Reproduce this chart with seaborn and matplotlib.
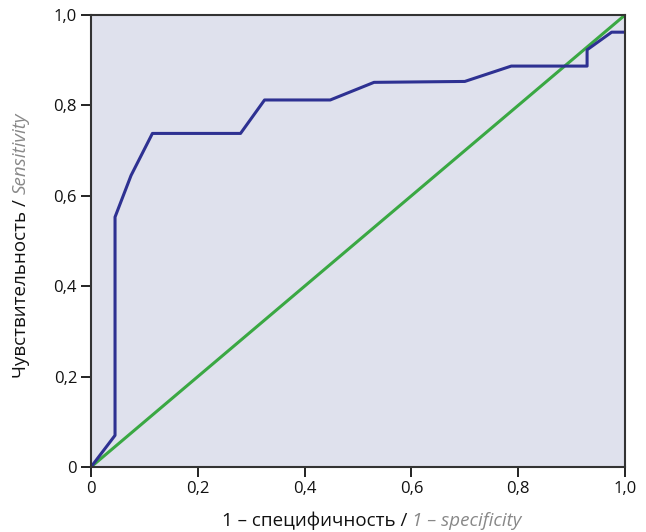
import matplotlib
matplotlib.use("Agg")
import matplotlib.pyplot as plt
import seaborn as sns
from matplotlib.ticker import FuncFormatter

# ROC curve points (1 - specificity, sensitivity)
fpr = [0.0, 0.045, 0.045, 0.075, 0.115, 0.28, 0.325, 0.448, 0.53, 0.70, 0.787, 0.929, 0.929, 0.975, 1.0]
tpr = [0.0, 0.07, 0.553, 0.645, 0.738, 0.738, 0.812, 0.812, 0.851, 0.853, 0.887, 0.887, 0.923, 0.962, 0.962]
diag_x = [0.0, 1.0]
diag_y = [0.0, 1.0]
ticks = [0.0, 0.2, 0.4, 0.6, 0.8, 1.0]

sns.set_style("ticks")
plt.rcParams['font.family'] = ['Open Sans', 'DejaVu Sans']

fig = plt.figure(figsize=(6.46, 5.32), dpi=100)
ax = fig.add_axes([91/646, 65/532, 534/646, 452/532])
ax.set_facecolor("#dfe1ed")

sns.lineplot(x=diag_x, y=diag_y, sort=False, estimator=None, color="#3aa843", linewidth=2.2, ax=ax)
sns.lineplot(x=fpr, y=tpr, sort=False, estimator=None, color="#2e3192", linewidth=2.2, ax=ax)

ax.set_xlim(0, 1)
ax.set_ylim(0, 1)
ax.set_xticks(ticks)
ax.set_yticks(ticks)
fmt = FuncFormatter(lambda v, p: "0" if v == 0 else f"{v:.1f}".replace(".", ","))
ax.xaxis.set_major_formatter(fmt)
ax.yaxis.set_major_formatter(fmt)
ax.tick_params(axis="both", direction="out", length=7, width=1.3, labelsize=12, colors="#111111", pad=3)
for s in ax.spines.values():
    s.set_visible(True)
    s.set_linewidth(1.5)
    s.set_color("#333333")
ax.set_xlabel("")
ax.set_ylabel("")

fig.canvas.draw()
r = fig.canvas.get_renderer()
fs = 13.5

# x label
xl1 = fig.text(0, 0, "1 – специфичность / ", fontsize=fs, color="#111111", ha="left", va="baseline")
xl2 = fig.text(0, 0, "1 – specificity", fontsize=fs, color="#888888", style="italic", ha="left", va="baseline")
w1 = xl1.get_window_extent(r).width
w2 = xl2.get_window_extent(r).width
cx = (91 + 625) / 2 + 14
x0 = cx - (w1 + w2) / 2
yb = 532 - 526
xl1.set_position((x0 / 646, yb / 532))
xl2.set_position(((x0 + w1) / 646, yb / 532))

# y label
yl1 = fig.text(0, 0, "Чувствительность / ", fontsize=fs, color="#111111", rotation=90, ha="left", va="bottom", rotation_mode="anchor")
yl2 = fig.text(0, 0, "Sensitivity", fontsize=fs, color="#888888", style="italic", rotation=90, ha="left", va="bottom", rotation_mode="anchor")
h1 = yl1.get_window_extent(r).height
h2 = yl2.get_window_extent(r).height
cy = 532 - 245
y0 = cy - (h1 + h2) / 2
xb = 30
yl1.set_position((xb / 646, y0 / 532))
yl2.set_position((xb / 646, (y0 + h1) / 532))

fig.savefig("out.png", dpi=100)
